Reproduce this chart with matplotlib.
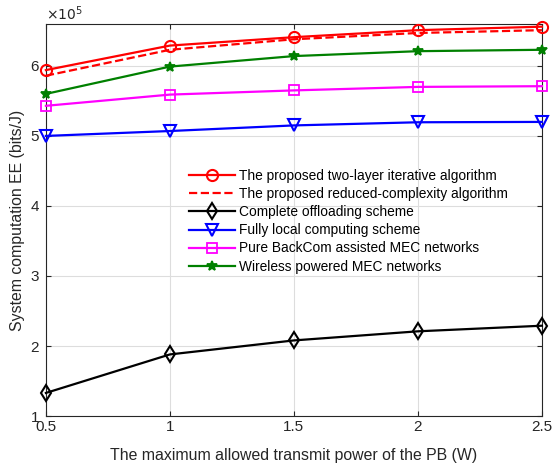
import numpy as np
import matplotlib
matplotlib.use("Agg")
import matplotlib.pyplot as plt

plt.rcParams['font.family'] = ['Liberation Sans', 'DejaVu Sans']

# datos
p_max = [0.5, 1.0, 1.5, 2.0, 2.5]
ee_two_layer = [5.94, 6.29, 6.41, 6.51, 6.56]
ee_reduced = [5.86, 6.23, 6.38, 6.47, 6.51]
ee_offload = [1.33, 1.88, 2.08, 2.21, 2.29]
ee_local = [5.00, 5.07, 5.15, 5.195, 5.20]
ee_backcom = [5.43, 5.59, 5.65, 5.70, 5.71]
ee_wpmec = [5.60, 5.99, 6.14, 6.21, 6.23]

fig = plt.figure(figsize=(5.53, 4.68), dpi=100)
ax = fig.add_axes([0.083, 0.111, 0.897, 0.838])

kw = dict(lw=1.6, mfc='none', mew=1.5, clip_on=False, zorder=3)
ax.plot(p_max, ee_two_layer, '-o', color='red', ms=8,
        label='The proposed two-layer iterative algorithm', **kw)
ax.plot(p_max, ee_reduced, '--', color='red', lw=1.6, clip_on=False, zorder=3,
        label='The proposed reduced-complexity algorithm')
ax.plot(p_max, ee_offload, '-d', color='black', ms=8,
        label='Complete offloading scheme', **kw)
ax.plot(p_max, ee_local, '-v', color='blue', ms=8,
        label='Fully local computing scheme', **kw)
ax.plot(p_max, ee_backcom, '-s', color='magenta', ms=7,
        label='Pure BackCom assisted MEC networks',
        lw=1.6, mfc='none', mew=1.3, clip_on=False, zorder=3)
ax.plot(p_max, ee_wpmec, '-*', color='green', ms=7, mew=1.3,
        lw=1.6, clip_on=False, zorder=3,
        label='Wireless powered MEC networks')

ax.set_xlim(0.5, 2.5)
ax.set_ylim(1, 6.6)
ax.set_xticks([0.5, 1, 1.5, 2, 2.5])
ax.set_xticklabels(['0.5', '1', '1.5', '2', '2.5'])
ax.set_yticks([1, 2, 3, 4, 5, 6])
ax.grid(True, color='#dddddd', lw=0.8)
ax.tick_params(direction='in', top=True, right=True, labelsize=11, colors='#262626')
ax.tick_params(axis='x', pad=3)
ax.tick_params(axis='y', pad=5)
for s in ax.spines.values():
    s.set_color('#262626')
    s.set_linewidth(0.8)

ax.set_xlabel('The maximum allowed transmit power of the PB (W)', fontsize=11.4,
              color='#262626', labelpad=10)
ax.set_ylabel('System computation EE (bits/J)', fontsize=11.4, color='#262626', labelpad=4)
ax.text(0.0, 1.003, r'$\times10^5$', transform=ax.transAxes, fontsize=10,
        ha='left', va='bottom', color='#262626')

ax.legend(loc='upper left', bbox_to_anchor=(0.289, 0.63), frameon=False, fontsize=9.9,
          numpoints=1, handlelength=3.3, labelspacing=0.3, borderaxespad=0,
          borderpad=0, handletextpad=0.3)

plt.savefig('out.png', dpi=100)
plt.close()
